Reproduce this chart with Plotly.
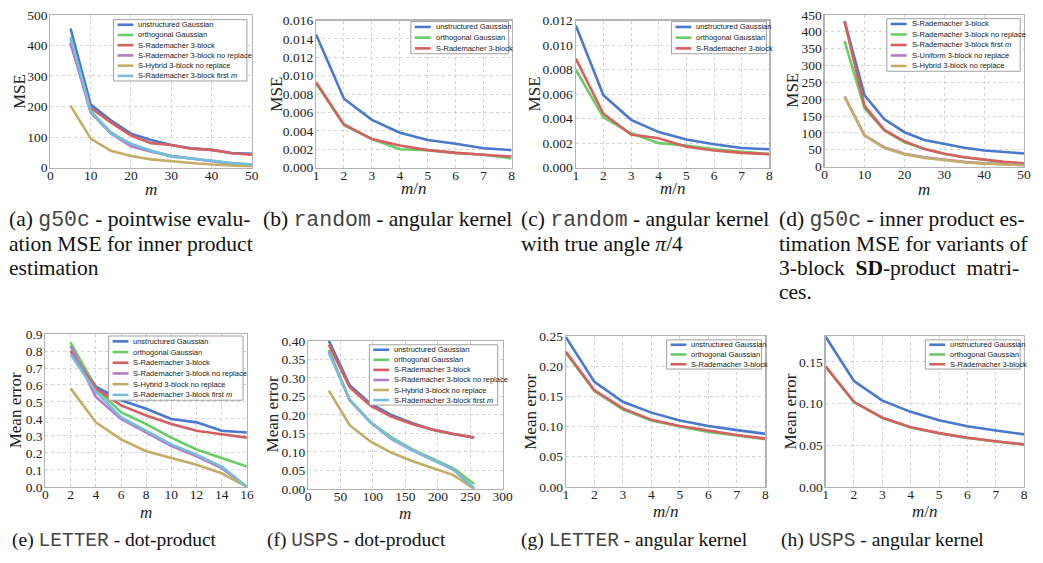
import plotly.graph_objects as go

W, H = 1043, 563

# ---------------- data ----------------
m_g50c = [5, 10, 15, 20, 25, 30, 35, 40, 45, 50]
ratio = [1, 2, 3, 4, 5, 6, 7, 8]
m_letter = [2, 4, 6, 8, 10, 12, 14, 16]
m_usps = [32, 64, 96, 128, 160, 192, 224, 256]

# (a) g50c pointwise evaluation MSE
a_unstructured = [455, 206, 155, 111, 90, 74, 63, 58, 48, 45]
a_orthogonal = [420, 185, 115, 75, 55, 38, 30, 22, 15, 10]
a_srad = [405, 195, 148, 105, 80, 74, 62, 58, 47, 42]
a_srad_norep = [410, 180, 112, 70, 52, 38, 30, 20, 12, 7]
a_hybrid = [203, 95, 55, 38, 27, 20, 15, 10, 6, 4]
a_srad_first = [428, 185, 112, 78, 55, 36, 30, 22, 15, 10]

# (b) random angular kernel
b_unstructured = [0.0145, 0.0075, 0.0052, 0.0038, 0.0030, 0.0026, 0.0021, 0.0019]
b_orthogonal = [0.0092, 0.0046, 0.0031, 0.0020, 0.0019, 0.0016, 0.0014, 0.0010]
b_srad = [0.0093, 0.0047, 0.0031, 0.0024, 0.0019, 0.0016, 0.0014, 0.0012]

# (c) random angular kernel, true angle pi/4
c_unstructured = [0.0116, 0.0059, 0.0039, 0.0029, 0.0023, 0.0019, 0.0016, 0.0015]
c_orthogonal = [0.0080, 0.0041, 0.0028, 0.0020, 0.0018, 0.0015, 0.0013, 0.0011]
c_srad = [0.0089, 0.0044, 0.0027, 0.0024, 0.0017, 0.0014, 0.0012, 0.0011]

# (d) g50c variants of 3-block SD-product matrices
d_srad = [431, 211, 140, 102, 79, 68, 56, 48, 44, 39]
d_srad_norep = [372, 173, 107, 72, 53, 38, 28, 20, 13, 8]
d_srad_first = [430, 180, 108, 75, 52, 38, 28, 20, 14, 10]
d_uniform = [208, 93, 57, 38, 28, 20, 14, 10, 7, 5]
d_hybrid = [207, 92, 55, 37, 26, 19, 13, 9, 6, 4]

# (e) LETTER dot-product
e_unstructured = [0.83, 0.59, 0.51, 0.46, 0.40, 0.38, 0.33, 0.32]
e_orthogonal = [0.85, 0.58, 0.44, 0.37, 0.29, 0.22, 0.17, 0.12]
e_srad = [0.80, 0.58, 0.48, 0.42, 0.37, 0.33, 0.31, 0.29]
e_srad_norep = [0.83, 0.53, 0.40, 0.32, 0.24, 0.18, 0.11, 0.00]
e_hybrid = [0.58, 0.38, 0.28, 0.21, 0.17, 0.13, 0.08, 0.00]
e_srad_first = [0.78, 0.56, 0.41, 0.33, 0.25, 0.19, 0.12, 0.00]

# (f) USPS dot-product
f_unstructured = [0.40, 0.28, 0.23, 0.20, 0.178, 0.160, 0.148, 0.138]
f_orthogonal = [0.375, 0.24, 0.18, 0.14, 0.107, 0.08, 0.055, 0.013]
f_srad = [0.39, 0.275, 0.225, 0.195, 0.175, 0.160, 0.148, 0.139]
f_srad_norep = [0.37, 0.24, 0.18, 0.135, 0.105, 0.078, 0.052, 0.0]
f_hybrid = [0.265, 0.172, 0.128, 0.098, 0.075, 0.055, 0.037, 0.0]
f_srad_first = [0.368, 0.242, 0.18, 0.137, 0.105, 0.078, 0.052, 0.0]

# (g) LETTER angular kernel
g_unstructured = [0.248, 0.174, 0.141, 0.123, 0.110, 0.101, 0.094, 0.088]
g_orthogonal = [0.222, 0.159, 0.128, 0.110, 0.100, 0.091, 0.085, 0.079]
g_srad = [0.224, 0.160, 0.130, 0.111, 0.101, 0.093, 0.086, 0.080]

# (h) USPS angular kernel
h_unstructured = [0.180, 0.127, 0.1035, 0.090, 0.080, 0.0727, 0.0676, 0.063]
h_orthogonal = [0.1440, 0.1015, 0.0828, 0.0713, 0.0643, 0.0588, 0.0545, 0.0508]
h_srad = [0.1445, 0.102, 0.083, 0.0715, 0.0645, 0.059, 0.0547, 0.051]

# legend labels
L_UNS = "unstructured Gaussian"
L_ORT = "orthogonal Gaussian"
L_SR = "S-Rademacher 3-block"
L_SRN = "S-Rademacher 3-block no replace"
L_HYB = "S-Hybrid 3-block no replace"
L_SRF = "S-Rademacher 3-block first <i>m</i>"
L_UNI = "S-Uniform 3-block no replace"

BLUE, GREEN, RED = "#4878CF", "#6ACC65", "#D65F5F"
PURPLE, GOLD, CYAN = "#B47CC7", "#C4AD66", "#77BEDB"

SERIF = "Liberation Serif, Times New Roman, Times, DejaVu Serif, serif"
SANS = "Liberation Sans, Arial, Helvetica, sans-serif"

fig = go.Figure()
shapes = []
annotations = []


def px_x(p):
    return p / W


def px_y(p):
    return 1 - p / H


panels = [
    dict(x=m_g50c, series=[(a_unstructured, BLUE, L_UNS), (a_orthogonal, GREEN, L_ORT), (a_srad, RED, L_SR),
                           (a_srad_norep, PURPLE, L_SRN), (a_hybrid, GOLD, L_HYB), (a_srad_first, CYAN, L_SRF)],
         xd=(48, 252), yd=(8, 165), xr=[0, 50], xdt=10, yr=[0, 500], ydt=100, yf="d",
         xt="<i>m</i>", yt="MSE", leg=(112, 13, 247, 76), xtp=188, ytp=16),
    dict(x=ratio, series=[(b_unstructured, BLUE, L_UNS), (b_orthogonal, GREEN, L_ORT), (b_srad, RED, L_SR)],
         xd=(317, 515), yd=(14, 165), xr=[1, 8], xdt=1, yr=[0, 0.016], ydt=0.002, yf=".3f",
         xt="<i>m</i>/<i>n</i>", yt="MSE", leg=(413, 15, 512, 48), xtp=186, ytp=277),
    dict(x=ratio, series=[(c_unstructured, BLUE, L_UNS), (c_orthogonal, GREEN, L_ORT), (c_srad, RED, L_SR)],
         xd=(580, 776), yd=(14, 165), xr=[1, 8], xdt=1, yr=[0, 0.012], ydt=0.002, yf=".3f",
         xt="<i>m</i>/<i>n</i>", yt="MSE", leg=(677, 15, 773, 48), xtp=186, ytp=538),
    dict(x=m_g50c, series=[(d_srad, BLUE, L_SR), (d_srad_norep, GREEN, L_SRN), (d_srad_first, RED, L_SRF),
                           (d_uniform, PURPLE, L_UNI), (d_hybrid, GOLD, L_HYB)],
         xd=(832, 1034), yd=(8, 164), xr=[0, 50], xdt=10, yr=[0, 450], ydt=50, yf="d",
         xt="<i>m</i>", yt="MSE", leg=(895, 12, 1030, 66), xtp=188, ytp=800),
    dict(x=m_letter, series=[(e_unstructured, BLUE, L_UNS), (e_orthogonal, GREEN, L_ORT), (e_srad, RED, L_SR),
                             (e_srad_norep, PURPLE, L_SRN), (e_hybrid, GOLD, L_HYB), (e_srad_first, CYAN, L_SRF)],
         xd=(43, 247), yd=(336, 493), xr=[0, 16], xdt=2, yr=[0, 0.9], ydt=0.1, yf=".1f",
         xt="<i>m</i>", yt="Mean error", leg=(107, 338, 243, 404), xtp=519, ytp=13),
    dict(x=m_usps, series=[(f_unstructured, BLUE, L_UNS), (f_orthogonal, GREEN, L_ORT), (f_srad, RED, L_SR),
                           (f_srad_norep, PURPLE, L_SRN), (f_hybrid, GOLD, L_HYB), (f_srad_first, CYAN, L_SRF)],
         xd=(309, 506), yd=(343, 495), xr=[0, 300], xdt=50, yr=[0, 0.4], ydt=0.05, yf=".2f",
         xt="<i>m</i>", yt="Mean error", leg=(371, 347, 501, 409), xtp=520, ytp=273),
    dict(x=ratio, series=[(g_unstructured, BLUE, L_UNS), (g_orthogonal, GREEN, L_ORT), (g_srad, RED, L_SR)],
         xd=(570, 772), yd=(338, 493), xr=[1, 8], xdt=1, yr=[0, 0.25], ydt=0.05, yf=".2f",
         xt="<i>m</i>/<i>n</i>", yt="Mean error", leg=(672, 342, 768, 372), xtp=518, ytp=534),
    dict(x=ratio, series=[(h_unstructured, BLUE, L_UNS), (h_orthogonal, GREEN, L_ORT), (h_srad, RED, L_SR)],
         xd=(833, 1034), yd=(338, 493), xr=[1, 8], xdt=1, yr=[0, 0.181], ydt=0.05, yf=".2f",
         xt="<i>m</i>/<i>n</i>", yt="Mean error", leg=(934, 342, 1030, 372), xtp=518, ytp=797),
]

layout = {}
for i, p in enumerate(panels):
    n = i + 1
    sfx = "" if n == 1 else str(n)
    for ys, col, lab in p["series"]:
        fig.add_trace(go.Scatter(x=p["x"], y=ys, mode="lines", name=lab, showlegend=False,
                                 line=dict(color=col, width=2.6),
                                 xaxis="x" + sfx, yaxis="y" + sfx))
    common = dict(showgrid=True, gridcolor="#d4d4d4", griddash="dot", gridwidth=1,
                  showline=True, linecolor="#b3b3b3", linewidth=1.2, mirror=True,
                  zeroline=False, ticks="", ticklabeloverflow="allow",
                  tickfont=dict(family=SERIF, size=13.5, color="#222"))
    layout["xaxis" + sfx] = dict(common, domain=[px_x(p["xd"][0]), px_x(p["xd"][1])],
                                 range=p["xr"], dtick=p["xdt"], tick0=0, anchor="y" + sfx,
                                 ticklabelstandoff=-5)
    layout["yaxis" + sfx] = dict(common, domain=[px_y(p["yd"][1]), px_y(p["yd"][0])],
                                 range=p["yr"], dtick=p["ydt"], tick0=0, tickformat=p["yf"],
                                 anchor="x" + sfx, ticklabelstandoff=-1)
    # axis titles
    xc = (p["xd"][0] + p["xd"][1]) / 2
    yc_ = (p["yd"][0] + p["yd"][1]) / 2
    annotations.append(dict(xref="paper", yref="paper", x=px_x(xc), y=px_y(p["xtp"]),
                            xanchor="center", yanchor="middle", showarrow=False, text=p["xt"],
                            font=dict(family=SERIF, size=17, color="#222")))
    annotations.append(dict(xref="paper", yref="paper", x=px_x(p["ytp"]), y=px_y(yc_),
                            xanchor="center", yanchor="middle", showarrow=False, text=p["yt"],
                            textangle=-90, font=dict(family=SERIF, size=17, color="#222")))
    # legend box
    x0, y0, x1, y1 = p["leg"]
    k = len(p["series"])
    shapes.append(dict(type="rect", xref="paper", yref="paper", x0=px_x(x0), x1=px_x(x1),
                       y0=px_y(y1), y1=px_y(y0), line=dict(color="#a0a0a0", width=1),
                       fillcolor="white", layer="above"))
    rh = (y1 - y0) / k
    for j, (ys, col, lab) in enumerate(p["series"]):
        yc = y0 + (j + 0.5) * rh
        shapes.append(dict(type="line", xref="paper", yref="paper", x0=px_x(x0 + 4), x1=px_x(x0 + 20),
                           y0=px_y(yc), y1=px_y(yc), line=dict(color=col, width=2.6), layer="above"))
        annotations.append(dict(xref="paper", yref="paper", x=px_x(x0 + 23), y=px_y(yc),
                                xanchor="left", yanchor="middle", showarrow=False, text=lab,
                                font=dict(family=SANS, size=7.5, color="#222")))


def mono(s):
    return "<span style='font-family:Liberation Mono, Courier New, monospace; color:#444'>%s</span>" % s


CS = 21.5
captions = [
    (4, 218, "(a) " + mono("g50c") + " - pointwise evalu-", CS),
    (4, 243, "ation MSE for inner product", CS),
    (4, 268, "estimation", CS),
    (261, 218, "(b) " + mono("random") + " - angular kernel", CS),
    (523, 218, "(c) " + mono("random") + " - angular kernel", CS),
    (523, 243, "with true angle <i>π</i>/4", CS),
    (784, 218, "(d) " + mono("g50c") + " - inner product es-", CS),
    (784, 243, "timation MSE for variants of", CS),
    (784, 268, "3-block  <b>SD</b>-product  matri-", CS),
    (784, 293, "ces.", CS),
    (7, 548, "(e) " + mono("LETTER") + " - dot-product", 19.5),
    (265, 548, "(f) " + mono("USPS") + " - dot-product", 19.5),
    (523, 548, "(g) " + mono("LETTER") + " - angular kernel", 19.5),
    (786, 548, "(h) " + mono("USPS") + " - angular kernel", 19.5),
]
for x, y, t, s in captions:
    annotations.append(dict(xref="paper", yref="paper", x=px_x(x), y=px_y(y), xanchor="left",
                            yanchor="middle", showarrow=False, text=t,
                            font=dict(family=SERIF, size=s, color="#111")))

fig.update_layout(layout)
fig.update_layout(width=W, height=H, autosize=False, margin=dict(l=0, r=0, t=0, b=0),
                  paper_bgcolor="white", plot_bgcolor="white", showlegend=False,
                  hovermode=False, shapes=shapes, annotations=annotations)

fig.write_html("out.html", config={"displayModeBar": False, "staticPlot": True},
               post_script="document.body.style.margin='0';document.body.style.overflow='hidden';"
                           "document.documentElement.style.overflow='hidden';")
